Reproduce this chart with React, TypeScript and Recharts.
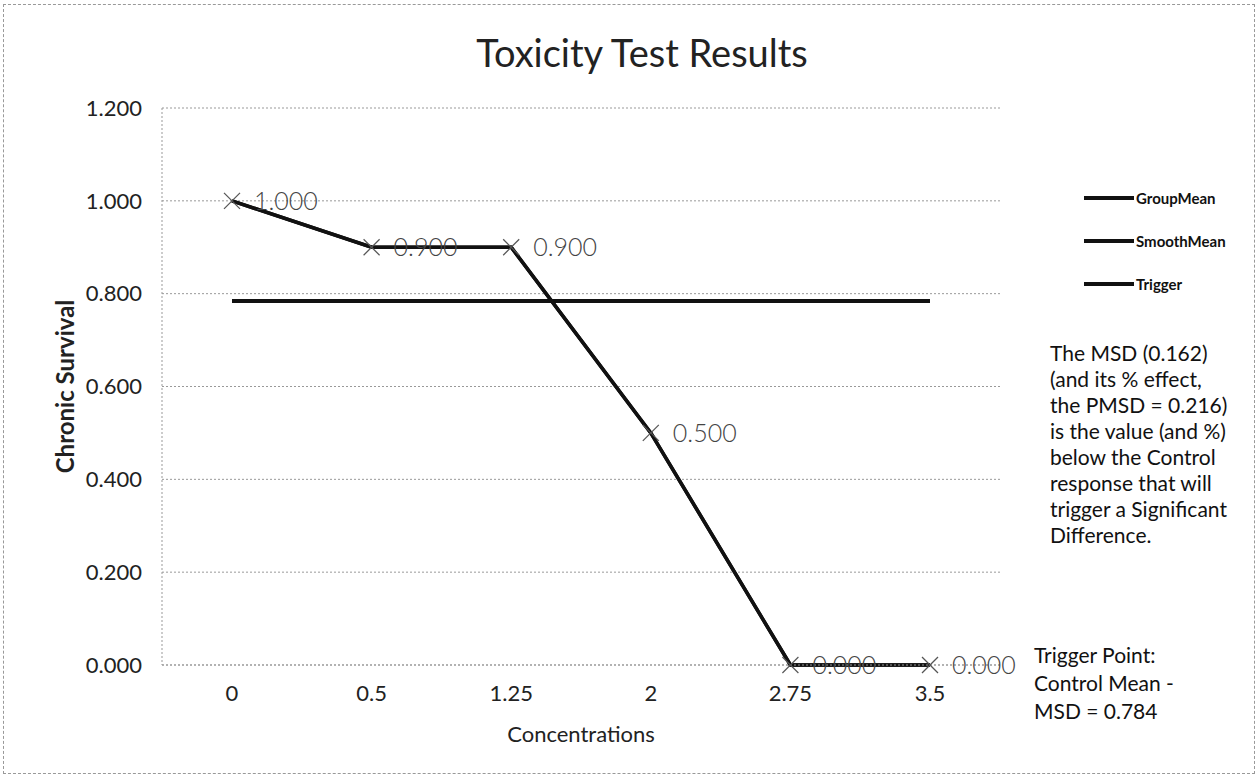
import React from "react";
import { LineChart, Line, XAxis, YAxis, CartesianGrid, LabelList } from "recharts";

const concentrations = ["0", "0.5", "1.25", "2", "2.75", "3.5"];
const groupMean = [1.0, 0.9, 0.9, 0.5, 0.0, 0.0];
const smoothMean = [1.0, 0.9, 0.9, 0.5, 0.0, 0.0];
const trigger = [0.784, 0.784, 0.784, 0.784, 0.784, 0.784];
const yTicks = [0, 0.2, 0.4, 0.6, 0.8, 1.0, 1.2];
const seriesNames = ["GroupMean", "SmoothMean", "Trigger"];

const msdNote = [
  "The MSD (0.162)",
  "(and its % effect,",
  "the PMSD = 0.216)",
  "is the value (and %)",
  "below the Control",
  "response that will",
  "trigger a Significant",
  "Difference.",
];
const triggerNote = ["Trigger Point:", "Control Mean -", "MSD = 0.784"];

const data = concentrations.map((c, i) => ({
  conc: c,
  GroupMean: groupMean[i],
  SmoothMean: smoothMean[i],
  Trigger: trigger[i],
}));

const FONT = "Lato, 'Open Sans', sans-serif";

// x-shaped marker like Excel
const CrossDot = (props: any) => {
  const { cx, cy } = props;
  if (cx == null || cy == null) return null;
  const s = 8;
  return (
    <g>
      <line x1={cx - s} y1={cy - s} x2={cx + s} y2={cy + s} stroke="#555" strokeWidth={1.2} />
      <line x1={cx - s} y1={cy + s} x2={cx + s} y2={cy - s} stroke="#555" strokeWidth={1.2} />
    </g>
  );
};

const ValueLabel = (props: any) => {
  const { x, y, value } = props;
  return (
    <text x={x + 22} y={y} dy="0.36em" fontSize={25} fill="#444" fontFamily={FONT} fontWeight={300}>
      {Number(value).toFixed(3)}
    </text>
  );
};

export default function App() {
  return (
    <div style={{ position: "absolute", left: 0, top: 0, width: 1259, height: 778, background: "#fff", fontFamily: FONT }}>
      <div
        style={{
          position: "absolute",
          left: 3,
          top: 4,
          width: 1252,
          height: 770,
          border: "1px dashed #999",
          boxSizing: "border-box",
        }}
      />
      <div
        style={{
          position: "absolute",
          left: 442,
          width: 400,
          top: 33,
          textAlign: "center",
          fontSize: 38,
          lineHeight: "38px",
          color: "#222",
        }}
      >
        Toxicity Test Results
      </div>
      <LineChart width={1259} height={778} data={data} margin={{ top: 108, right: 259, bottom: 83, left: 92 }}>
        <CartesianGrid vertical={false} stroke="#999" strokeDasharray="2 2" />
        <XAxis
          dataKey="conc"
          padding={{ left: 70, right: 70 }}
          tickLine={false}
          tickSize={0}
          axisLine={{ stroke: "#999", strokeDasharray: "2 2" }}
          tick={{ fontSize: 22, fill: "#222", fontFamily: FONT }}
          tickMargin={20}
          label={{ value: "Concentrations", position: "bottom", offset: 31, fontSize: 22, fill: "#222", fontFamily: FONT }}
        />
        <YAxis
          domain={[0, 1.2]}
          ticks={yTicks}
          width={70}
          tickFormatter={(v: number) => v.toFixed(3)}
          tickLine={false}
          tickSize={0}
          axisLine={{ stroke: "#999", strokeDasharray: "2 2" }}
          tick={{ fontSize: 22, fill: "#222", fontFamily: FONT }}
          tickMargin={20}
          label={{
            value: "Chronic Survival",
            angle: -90,
            position: "insideLeft",
            offset: -27,
            fontSize: 24,
            fontWeight: 700,
            fill: "#222",
            fontFamily: FONT,
            style: { textAnchor: "middle" },
          }}
        />
        <Line dataKey="Trigger" stroke="#111" strokeWidth={4} dot={false} isAnimationActive={false} />
        <Line dataKey="SmoothMean" stroke="#111" strokeWidth={3.5} dot={false} isAnimationActive={false} />
        <Line dataKey="GroupMean" stroke="#111" strokeWidth={3.5} dot={<CrossDot />} isAnimationActive={false}>
          <LabelList dataKey="GroupMean" content={<ValueLabel />} />
        </Line>
      </LineChart>
      <div style={{ position: "absolute", left: 1084, top: 176, fontSize: 15, fontWeight: 700, color: "#111" }}>
        {seriesNames.map((name) => (
          <div key={name} style={{ display: "flex", alignItems: "center", height: 43 }}>
            <span style={{ display: "inline-block", width: 50, height: 4, background: "#111", marginRight: 2 }} />
            {name}
          </div>
        ))}
      </div>
      <div style={{ position: "absolute", left: 1050, top: 340, fontSize: 21, lineHeight: "26px", color: "#111" }}>
        {msdNote.map((t) => (
          <div key={t}>{t}</div>
        ))}
      </div>
      <div style={{ position: "absolute", left: 1034, top: 641, fontSize: 21, lineHeight: "28px", color: "#111" }}>
        {triggerNote.map((t) => (
          <div key={t}>{t}</div>
        ))}
      </div>
    </div>
  );
}
